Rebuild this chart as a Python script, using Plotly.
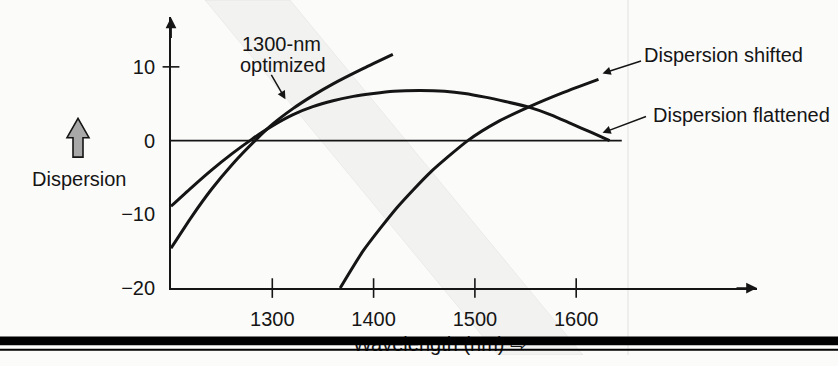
import plotly.graph_objects as go

# ---- data: fibre dispersion (ps/nm·km) against wavelength (nm) ----
opt1300_nm = [1200, 1220, 1240, 1260, 1283, 1300, 1320, 1340, 1360, 1390, 1419]
opt1300_d = [-14.6, -10.4, -6.6, -3.3, 0.0, 2.2, 4.3, 6.1, 7.7, 9.8, 11.7]

flat_nm = [1200, 1220, 1240, 1260, 1280, 1300, 1320, 1340, 1360, 1380, 1400, 1420, 1446,
           1470, 1490, 1510, 1530, 1554, 1575, 1595, 1615, 1633]
flat_d = [-8.9, -6.4, -4.0, -1.8, 0.2, 2.0, 3.5, 4.6, 5.4, 6.0, 6.4, 6.7, 6.8,
          6.7, 6.4, 5.9, 5.3, 4.5, 3.5, 2.3, 1.1, 0.0]

shift_nm = [1367, 1390, 1423, 1456, 1493, 1522, 1554, 1587, 1622]
shift_d = [-20.0, -14.9, -9.1, -4.3, 0.0, 2.5, 4.6, 6.5, 8.3]

zero_nm = [1200, 1645]
zero_d = [0, 0]

x_ticks = [1300, 1400, 1500, 1600]
y_ticks = [10, 0, -10, -20]
x_range = [1200, 1778.5]
y_range = [-20, 16.7]

W, H = 838, 366
FONT = "Liberation Sans, Arial, sans-serif"
INK = "#151515"

fig = go.Figure()

# x-axis title, partly hidden under the page-edge bars (decor axes use pixel units)
fig.add_trace(go.Scatter(
    x=[440], y=[357], text=["Wavelength (nm) \u21e8"], mode="text", textposition="middle center",
    textfont=dict(family=FONT, size=20, color=INK),
    hoverinfo="skip", showlegend=False, xaxis="x", yaxis="y", cliponaxis=False))

line_style = dict(color=INK, width=3, shape="spline", smoothing=0.6)
fig.add_trace(go.Scatter(x=zero_nm, y=zero_d, mode="lines", line=dict(color=INK, width=1.8),
                         xaxis="x2", yaxis="y2", showlegend=False, hoverinfo="skip"))
fig.add_trace(go.Scatter(x=opt1300_nm, y=opt1300_d, mode="lines", line=line_style,
                         name="1300-nm optimized", xaxis="x2", yaxis="y2", showlegend=False))
fig.add_trace(go.Scatter(x=flat_nm, y=flat_d, mode="lines", line=line_style,
                         name="Dispersion flattened", xaxis="x2", yaxis="y2", showlegend=False))
fig.add_trace(go.Scatter(x=shift_nm, y=shift_d, mode="lines", line=line_style,
                         name="Dispersion shifted", xaxis="x2", yaxis="y2", showlegend=False,
                         cliponaxis=False))

# crossing tick marks
fig.add_trace(go.Scatter(x=x_ticks, y=[y_range[0]] * len(x_ticks), mode="markers",
                         marker=dict(symbol="line-ns", size=14, line=dict(color=INK, width=1.6)),
                         xaxis="x2", yaxis="y2", showlegend=False, hoverinfo="skip", cliponaxis=False))
fig.add_trace(go.Scatter(x=[x_range[0]], y=[10], mode="markers",
                         marker=dict(symbol="line-ew", size=12, line=dict(color=INK, width=1.6)),
                         xaxis="x2", yaxis="y2", showlegend=False, hoverinfo="skip", cliponaxis=False))

# plot area placement in pixels
left_px, right_px, top_px, bottom_px = 171, 757, 18, 297

fig.update_layout(
    width=W, height=H, margin=dict(l=0, r=0, t=0, b=0),
    paper_bgcolor="#fbfbfa", plot_bgcolor="rgba(0,0,0,0)",
    font=dict(family=FONT, size=20, color=INK),
    xaxis=dict(domain=[0, 1], range=[0, W], visible=False, fixedrange=True),
    yaxis=dict(domain=[0, 1], range=[H, 0], visible=False, fixedrange=True),
    xaxis2=dict(domain=[left_px / W, right_px / W], range=x_range, anchor="y2",
                showline=True, linecolor=INK, linewidth=1.8, showgrid=False, zeroline=False,
                tickvals=x_ticks, ticks="", ticklabelstandoff=12,
                tickfont=dict(family=FONT, size=20, color=INK)),
    yaxis2=dict(domain=[1 - bottom_px / H, 1 - top_px / H], range=y_range, anchor="x2",
                showline=True, linecolor=INK, linewidth=1.8, showgrid=False, zeroline=False,
                tickvals=y_ticks, ticks="", ticklabelstandoff=10,
                tickfont=dict(family=FONT, size=20, color=INK)),
    showlegend=False,
)

# faint diagonal band and fold line behind the figure
fig.add_shape(type="path", xref="x", yref="y", layer="below",
              path="M 205 0 L 290 0 L 583 366 L 498 366 Z",
              fillcolor="rgba(0,0,0,0.035)", line=dict(color="rgba(0,0,0,0.05)", width=1))
fig.add_shape(type="line", xref="x", yref="y", layer="below", x0=628, x1=628, y0=0, y1=366,
              line=dict(color="rgba(0,0,0,0.05)", width=2))

# hollow up-arrow next to the y label
fig.add_shape(type="path", xref="x", yref="y",
              path="M 67 142 L 78 122 L 89 142 L 83 142 L 83 162 L 73 162 L 73 142 Z",
              fillcolor="#a8a8a8", line=dict(color=INK, width=1.6))

# page-edge bars at the bottom
fig.add_shape(type="rect", xref="x", yref="y", layer="above", x0=0, x1=W, y0=347, y1=356,
              fillcolor="#000000", line=dict(width=0))
fig.add_shape(type="rect", xref="x", yref="y", layer="above", x0=0, x1=W, y0=359.5, y1=361.5,
              fillcolor="#000000", line=dict(width=0))

# axis arrowheads
arrow = dict(showarrow=True, arrowhead=2, arrowsize=1.2, arrowwidth=1.8, arrowcolor=INK,
             text="", standoff=0)
fig.add_annotation(x=x_range[1], y=y_range[0], xref="x2", yref="y2", ax=-22, ay=0, **arrow)
fig.add_annotation(x=x_range[0], y=y_range[1], xref="x2", yref="y2", ax=0, ay=22, **arrow)

# curve labels with pointer arrows
label = dict(showarrow=False, font=dict(family=FONT, size=20, color=INK), xref="x", yref="y")
fig.add_annotation(text="1300-nm", x=281, y=45, xanchor="center", yanchor="middle", **label)
fig.add_annotation(text="optimized", x=283, y=67, xanchor="center", yanchor="middle", **label)
fig.add_annotation(text="Dispersion shifted", x=642, y=57, xanchor="left", yanchor="middle", **label)
fig.add_annotation(text="Dispersion flattened", x=651, y=119, xanchor="left", yanchor="middle", **label)
fig.add_annotation(text="Dispersion", x=30, y=185, xanchor="left", yanchor="middle", **label)

ptr = dict(showarrow=True, arrowhead=2, arrowsize=1.1, arrowwidth=1.5, arrowcolor=INK,
           text="", standoff=0, xref="x2", yref="y2")
fig.add_annotation(x=1313, y=5.6, ax=-15, ay=-26, **ptr)
fig.add_annotation(x=1626, y=9.1, ax=40, ay=-13, **ptr)
fig.add_annotation(x=1626, y=1.05, ax=45, ay=-17, **ptr)

fig.write_html("out.html")
